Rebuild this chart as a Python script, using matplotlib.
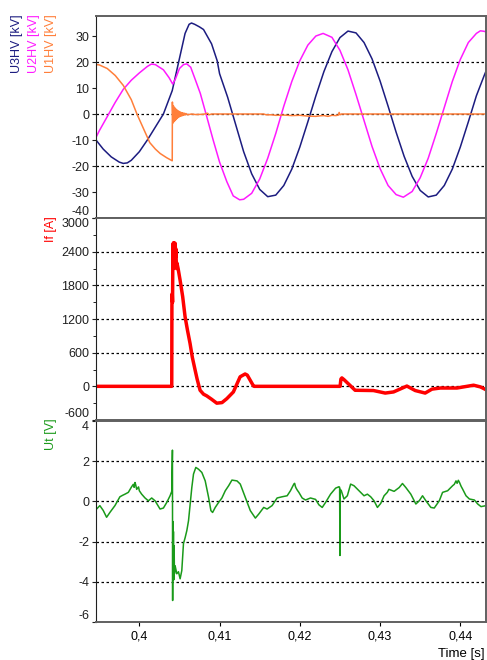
import matplotlib.pyplot as plt
from matplotlib.ticker import MultipleLocator

plt.rcParams['font.family'] = ['Liberation Sans', 'DejaVu Sans']
plt.rcParams['font.size'] = 9
plt.rcParams['axes.unicode_minus'] = False

# U3HV [kV] (navy)
t_u3 = [0.3946, 0.3955, 0.3965, 0.3975, 0.398, 0.3985, 0.399, 0.400, 0.401, 0.402,
        0.403, 0.4041, 0.4049, 0.4057, 0.4062, 0.4065, 0.4069, 0.4075, 0.408, 0.409,
        0.4097, 0.410, 0.411, 0.412, 0.413, 0.414, 0.415, 0.416, 0.417, 0.418,
        0.419, 0.420, 0.421, 0.422, 0.423, 0.424, 0.425, 0.426, 0.427, 0.428,
        0.429, 0.430, 0.431, 0.432, 0.433, 0.434, 0.435, 0.436, 0.437, 0.438,
        0.439, 0.440, 0.441, 0.442, 0.443, 0.4432]
u3 = [-10, -13.5, -16.5, -18.5, -19, -18.8, -17.8, -14.5, -10, -5,
      0, 9, 20, 31, 34.5, 35, 34.5, 33.5, 32.5, 27,
      20.5, 15.5, 6.5, -4, -14.5, -23, -29, -31.8, -31.2, -27.5,
      -21.2, -12.7, -3, 7, 16.3, 24, 29.4, 31.9, 31.2, 27.5,
      21.2, 12.7, 3, -7, -16.3, -24, -29.4, -31.9, -31.2, -27.5,
      -21.2, -12.7, -3, 7, 15, 16.5]

# U2HV [kV] (magenta)
t_u2 = [0.3946, 0.395, 0.396, 0.397, 0.398, 0.399, 0.400, 0.401, 0.4015, 0.402,
        0.403, 0.4037, 0.40416, 0.4045, 0.405, 0.4055, 0.4059, 0.4064, 0.407, 0.4076,
        0.4084, 0.4092, 0.410, 0.4109, 0.4117, 0.4125, 0.413, 0.414, 0.415, 0.416,
        0.417, 0.418, 0.419, 0.420, 0.421, 0.422, 0.4229, 0.424, 0.425, 0.426,
        0.427, 0.428, 0.429, 0.430, 0.431, 0.432, 0.4329, 0.434, 0.435, 0.436,
        0.437, 0.438, 0.439, 0.440, 0.441, 0.442, 0.4425, 0.443, 0.4432]
u2 = [-9, -6.5, -1, 4.5, 9.5, 13, 15.8, 18.3, 19.2, 19,
      17, 14, 11.5, 13.5, 17.5, 19, 19.3, 18, 13, 7.9,
      -1, -10, -18.5, -26, -31.5, -33, -32.8, -30.5, -25, -17,
      -7.5, 3, 12.5, 20.5, 26.5, 30, 31, 29.5, 24.5, 17,
      7.5, -2.5, -12.5, -21, -27.5, -31, -32, -29.8, -24.5, -17,
      -7.5, 2.5, 12.5, 21, 27.5, 31, 32, 31.8, 31.5]

# U1HV [kV] (orange)
t_u1 = [0.3946, 0.395, 0.396, 0.397, 0.398, 0.399, 0.3997, 0.4005, 0.4013, 0.402,
        0.4026, 0.4034, 0.4041, 0.40412, 0.40418, 0.40424, 0.4043, 0.40436, 0.40442, 0.40448,
        0.40454, 0.4046, 0.40466, 0.40472, 0.40478, 0.40484, 0.4049, 0.40496, 0.40502, 0.40508,
        0.40514, 0.4052, 0.40526, 0.40532, 0.40538, 0.40544, 0.4055, 0.4056, 0.4057, 0.4058,
        0.406, 0.4065, 0.407, 0.408, 0.4085, 0.4087, 0.409, 0.4155, 0.4158, 0.4165,
        0.417, 0.418, 0.419, 0.420, 0.421, 0.422, 0.4225, 0.423, 0.4235, 0.424,
        0.4245, 0.4248, 0.4249, 0.425, 0.4252, 0.4432]
u1 = [19, 18.9, 17.5, 14.8, 11, 5.5, 0, -5.5, -11, -13.5,
      -15.2, -16.8, -18, 4.6, -3.5, 3.2, -3, 2.6, -2.6, 2.2,
      -2.2, 1.8, -1.8, 1.5, -1.5, 1.2, -1.2, 1, -1, 0.8,
      -0.8, 0.6, -0.7, 0.5, -0.6, 0.4, -0.5, 0.3, -0.4, 0.2,
      -0.3, 0, -0.2, -0.1, 0.3, -0.3, 0, 0, -0.3, -0.3,
      -0.5, -0.4, -0.6, -0.5, -0.8, -0.9, -0.7, -0.6, -0.9, -0.5,
      -0.6, -0.4, 0.6, -0.3, 0, 0]

# If [A] (red)
t_if = [0.3946, 0.40404, 0.40406, 0.4041, 0.40414, 0.40418, 0.40422, 0.40426, 0.4043, 0.40434,
        0.40438, 0.40442, 0.40446, 0.4045, 0.40456, 0.40462, 0.40468, 0.40483, 0.40507, 0.4054,
        0.4057, 0.406, 0.40632, 0.4066, 0.40695, 0.4072, 0.40757, 0.408, 0.4084, 0.409,
        0.40965, 0.4103, 0.4109, 0.41172, 0.41256, 0.41318, 0.41345, 0.41421, 0.4143, 0.42502,
        0.42512, 0.42524, 0.4255, 0.42689, 0.42918, 0.43, 0.43064, 0.43168, 0.43334, 0.43438,
        0.43562, 0.43646, 0.4375, 0.43958, 0.44165, 0.4425, 0.4432]
i_f = [0, 0, 1450, 1650, 1500, 2400, 2550, 2100, 2560, 2200,
       2500, 2150, 2550, 2300, 2450, 2100, 2200, 2100, 1900, 1600,
       1240, 1000, 765, 520, 290, 130, -70, -140, -170, -230,
       -300, -290, -220, -100, 170, 220, 200, 10, 0, 0,
       130, 150, 120, -70, -75, -100, -120, -100, 5, -75,
       -120, -50, -30, -30, 20, -10, -60]

# Ut [V] (green)
t_ut = [0.39467, 0.39508, 0.3955, 0.39592, 0.39633, 0.39696, 0.39758, 0.3979, 0.39821, 0.39863,
        0.39904, 0.39925, 0.39935, 0.39946, 0.39955, 0.39967, 0.3999, 0.4, 0.40029, 0.40071,
        0.40113, 0.40154, 0.40196, 0.40258, 0.403, 0.40342, 0.40383, 0.40404, 0.404125, 0.40415,
        0.404167, 0.404208, 0.40425, 0.404292, 0.404333, 0.404375, 0.404458, 0.404667, 0.404875, 0.405083,
        0.405292, 0.4055, 0.40571, 0.40592, 0.40613, 0.40633, 0.40654, 0.40675, 0.40704, 0.40738,
        0.40779, 0.40821, 0.40863, 0.40892, 0.40913, 0.40946, 0.40988, 0.41029, 0.41071, 0.41113,
        0.41154, 0.41217, 0.41258, 0.41321, 0.41383, 0.41446, 0.41488, 0.4155, 0.41592, 0.41654,
        0.41717, 0.41779, 0.41842, 0.41883, 0.4191, 0.41925, 0.41935, 0.41946, 0.41955, 0.4197,
        0.41988, 0.42029, 0.42071, 0.42133, 0.42196, 0.42238, 0.42279, 0.42321, 0.42383, 0.42446,
        0.42488, 0.42496, 0.425, 0.42504, 0.42517, 0.4255, 0.42592, 0.42633, 0.42675, 0.42738,
        0.428, 0.42842, 0.42883, 0.42925, 0.42967, 0.43008, 0.4305, 0.4309, 0.4311, 0.43175,
        0.43238, 0.43279, 0.43321, 0.43383, 0.43446, 0.43488, 0.43529, 0.43571, 0.43633, 0.43675,
        0.43738, 0.43779, 0.43842, 0.43904, 0.43925, 0.43946, 0.4396, 0.43975, 0.4399, 0.4401,
        0.44029, 0.44071, 0.44113, 0.44175, 0.44217, 0.44258, 0.44321]
ut = [-0.38, -0.21, -0.45, -0.79, -0.55, -0.21, 0.23, 0.3, 0.36, 0.45,
      0.73, 0.85, 0.7, 0.94, 0.82, 0.6, 0.72, 0.53, 0.36, 0.17,
      0.03, 0.17, 0.03, -0.38, -0.33, -0.05, 0.28, 0.5, 2.55, -4.93,
      -1.0, -3.5, -1.5, -3.9, -2.2, -3.6, -3.2, -3.6, -3.5, -3.85,
      -3.44, -2.1, -1.8, -1.45, -0.96, -0.13, 0.69, 1.36, 1.69, 1.6,
      1.44, 1.02, 0.2, -0.46, -0.55, -0.3, -0.05, 0.17, 0.53, 0.78,
      1.06, 1.02, 0.86, 0.2, -0.46, -0.83, -0.63, -0.3, -0.38, -0.21,
      0.17, 0.23, 0.28, 0.53, 0.75, 0.86, 0.9, 0.73, 0.65, 0.55,
      0.45, 0.17, 0.07, 0.17, 0.1, -0.17, -0.3, -0.05, 0.36, 0.66,
      0.73, 0.7, -2.69, 0.6, 0.53, 0.12, 0.28, 0.86, 0.78, 0.53,
      0.28, 0.36, 0.23, 0.03, -0.3, -0.1, 0.28, 0.45, 0.6, 0.5,
      0.69, 0.89, 0.69, 0.36, -0.13, 0.03, 0.28, 0.03, -0.3, -0.33,
      0.03, 0.45, 0.53, 0.78, 0.85, 1.02, 0.9, 1.05, 0.94, 0.75,
      0.61, 0.28, 0.12, 0.07, -0.13, -0.26, -0.21]

x_ticks = [0.40, 0.41, 0.42, 0.43, 0.44]
x_labels = ['0,4', '0,41', '0,42', '0,43', '0,44']

W, H = 487, 660
fig = plt.figure(figsize=(W / 100, H / 100), dpi=100)

def px_axes(top, bottom):
    return fig.add_axes([96 / W, 1 - bottom / H, 390 / W, (bottom - top) / H])

ax1 = px_axes(16, 218)
ax2 = px_axes(218, 420)
ax3 = px_axes(421, 622)

ax1.plot(t_u3, u3, color='#1c1c80', lw=1.1)
ax1.plot(t_u2, u2, color='#ff1aff', lw=1.1)
ax1.plot(t_u1, u1, color='#ff7f3a', lw=1.1)
ax2.plot(t_if, i_f, color='#ff0000', lw=2.5)
ax3.plot(t_ut, ut, color='#1a9a1a', lw=1.1)

ax1.set_ylim(-40, 37.7)
ax1.yaxis.set_major_locator(MultipleLocator(10))
ax2.set_ylim(-600, 3000)
ax2.yaxis.set_major_locator(MultipleLocator(600))
ax2.yaxis.set_minor_locator(MultipleLocator(300))
ax3.set_ylim(-6, 4)
ax3.yaxis.set_major_locator(MultipleLocator(2))

grid_steps = {ax1: [-20, 0, 20], ax2: [0, 600, 1200, 1800, 2400], ax3: [-4, -2, 0, 2]}
for ax, levels in grid_steps.items():
    ax.set_xlim(0.3946, 0.4432)
    for lv in levels:
        ax.axhline(lv, color='black', lw=0.9, ls=(0, (2, 2)), zorder=0)
    for side in ['top', 'right', 'bottom']:
        ax.spines[side].set_color('#606060')
        ax.spines[side].set_linewidth(1.4)
    ax.spines['left'].set_color('#202020')
    ax.tick_params(axis='y', direction='out', length=3, width=0.8, colors='#202020',
                   labelsize=9, pad=2)
    ax.tick_params(axis='y', which='minor', length=2)
    ax.set_xticks(x_ticks)
    if ax is ax3:
        ax.set_xticklabels(x_labels)
        ax.tick_params(axis='x', direction='out', length=3, labelsize=9, pad=3)
    else:
        ax.tick_params(axis='x', length=0, labelbottom=False)

fig.canvas.draw()
# edge labels sit inside the panel like in the reference
for ax in [ax1, ax2, ax3]:
    lo, hi = ax.get_ylim()
    for lab, val in zip(ax.get_yticklabels(), ax.get_yticks()):
        if abs(val - lo) < 1e-6:
            lab.set_va('bottom')
        elif abs(val - hi) < 1e-6:
            lab.set_va('top')

def ylabel(x, y, text, color):
    fig.text(x / W, 1 - y / H, text, rotation=90, color=color, ha='center', va='top',
             fontsize=9)

ylabel(17, 14, 'U3HV [kV]', '#1c1c80')
ylabel(34, 14, 'U2HV [kV]', '#ff1aff')
ylabel(51, 14, 'U1HV [kV]', '#ff7f3a')
ylabel(51, 216, 'If [A]', '#ff0000')
ylabel(51, 418, 'Ut [V]', '#1a9a1a')

fig.text(485 / W, 1 - 654 / H, 'Time [s]', ha='right', va='center', fontsize=9.5)

fig.savefig('out.png', dpi=100)
